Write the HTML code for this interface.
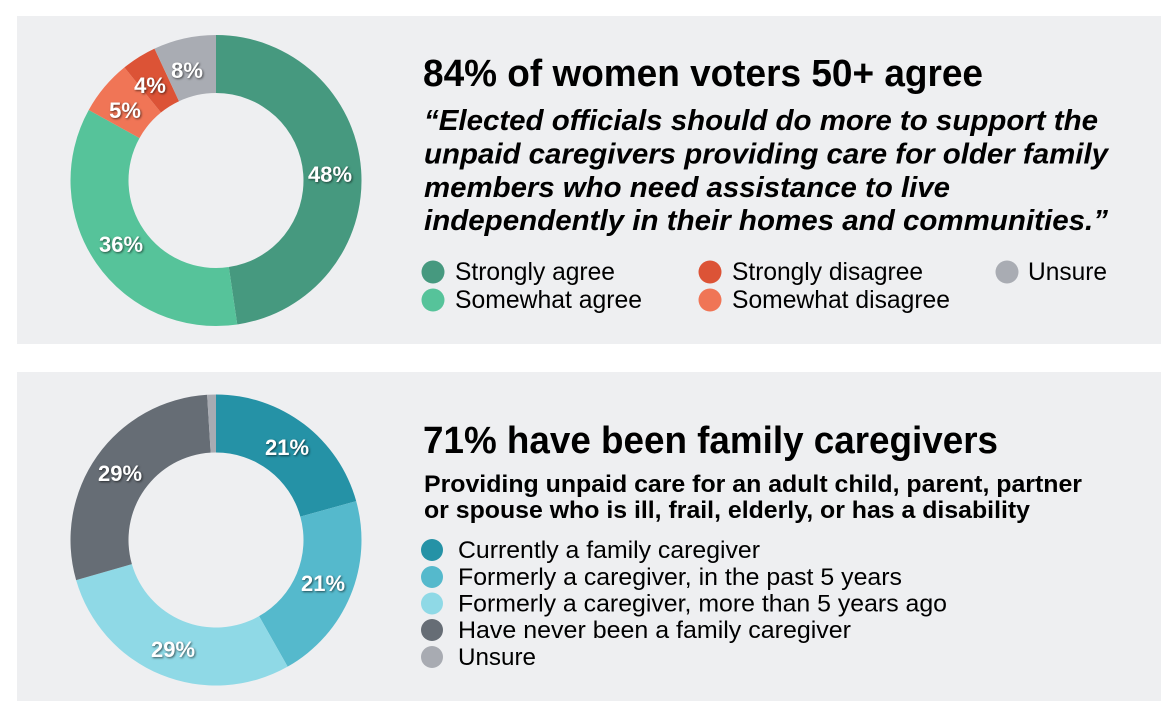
<!DOCTYPE html>
<html>
<head>
<meta charset="utf-8">
<style>
  html,body{margin:0;padding:0;background:#ffffff;}
  svg{display:block;}
  .t{font-family:"Liberation Sans",Arial,sans-serif;fill:#000;}
  .lbl{font-family:"Liberation Sans",Arial,sans-serif;font-weight:bold;font-size:22px;fill:#fff;text-anchor:middle;text-shadow:1px 1px 2px rgba(0,0,0,0.6);}
</style>
</head>
<body>
<svg width="1172" height="720" viewBox="0 0 1172 720" xmlns="http://www.w3.org/2000/svg">
  <rect x="0" y="0" width="1172" height="720" fill="#ffffff"/>
  <rect x="17" y="16" width="1144" height="328" fill="#eeeff1"/>
  <rect x="17" y="372" width="1144" height="329" fill="#eeeff1"/>

  <!-- Donut 1 -->
  <path d="M216,35 A145.5,145.5 0 0 1 237.26,324.44 L228.78,267.06 A87.5,87.5 0 0 0 216,93 Z" fill="#46997f"/>
  <path d="M237.26,324.44 A145.5,145.5 0 0 1 88.75,109.96 L139.47,138.08 A87.5,87.5 0 0 0 228.78,267.06 Z" fill="#56c39a"/>
  <path d="M88.75,109.96 A145.5,145.5 0 0 1 124.44,67.43 L160.94,112.5 A87.5,87.5 0 0 0 139.47,138.08 Z" fill="#f07556"/>
  <path d="M124.44,67.43 A145.5,145.5 0 0 1 154.51,48.63 L179.02,101.2 A87.5,87.5 0 0 0 160.94,112.5 Z" fill="#dc5336"/>
  <path d="M154.51,48.63 A145.5,145.5 0 0 1 216,35 L216,93 A87.5,87.5 0 0 0 179.02,101.2 Z" fill="#a9acb3"/>

  <text class="lbl" x="330" y="182">48%</text>
  <text class="lbl" x="121" y="252">36%</text>
  <text class="lbl" x="125" y="118">5%</text>
  <text class="lbl" x="150" y="93">4%</text>
  <text class="lbl" x="187" y="78">8%</text>

  <!-- Donut 2 -->
  <path d="M216,394.5 A145.5,145.5 0 0 1 356.20,501.12 L300.32,516.62 A87.5,87.5 0 0 0 216,452.5 Z" fill="#2592a6"/>
  <path d="M356.20,501.12 A145.5,145.5 0 0 1 287.64,666.64 L259.09,616.16 A87.5,87.5 0 0 0 300.32,516.62 Z" fill="#55b9cc"/>
  <path d="M287.64,666.64 A145.5,145.5 0 0 1 76.13,580.10 L131.89,564.12 A87.5,87.5 0 0 0 259.09,616.16 Z" fill="#8fd9e6"/>
  <path d="M76.13,580.10 A145.5,145.5 0 0 1 207.12,394.78 L210.66,452.66 A87.5,87.5 0 0 0 131.89,564.12 Z" fill="#666d75"/>
  <path d="M207.12,394.78 A145.5,145.5 0 0 1 216,394.5 L216,452.5 A87.5,87.5 0 0 0 210.66,452.66 Z" fill="#a8abb2"/>

  <text class="lbl" x="287" y="455">21%</text>
  <text class="lbl" x="323" y="591">21%</text>
  <text class="lbl" x="173" y="657">29%</text>
  <text class="lbl" x="120" y="481">29%</text>

  <!-- Panel 1 text -->
  <text class="t" x="423" y="86" font-size="38" font-weight="bold" textLength="560" lengthAdjust="spacingAndGlyphs">84% of women voters 50+ agree</text>
  <g font-size="28.5" font-weight="bold" font-style="italic">
    <text class="t" x="424" y="130" textLength="674" lengthAdjust="spacingAndGlyphs">“Elected officials should do more to support the</text>
    <text class="t" x="424" y="163.5" textLength="684" lengthAdjust="spacingAndGlyphs">unpaid caregivers providing care for older family</text>
    <text class="t" x="424" y="197" textLength="526" lengthAdjust="spacingAndGlyphs">members who need assistance to live</text>
    <text class="t" x="424" y="230" textLength="684" lengthAdjust="spacingAndGlyphs">independently in their homes and communities.”</text>
  </g>

  <circle cx="433" cy="272" r="11.5" fill="#46997f"/>
  <circle cx="433" cy="300" r="11.5" fill="#56c39a"/>
  <circle cx="710" cy="272" r="11.5" fill="#dc5336"/>
  <circle cx="710" cy="300" r="11.5" fill="#f07556"/>
  <circle cx="1007" cy="272" r="11.5" fill="#a9acb3"/>
  <g font-size="25">
    <text class="t" x="455" y="280" textLength="160" lengthAdjust="spacingAndGlyphs">Strongly agree</text>
    <text class="t" x="455" y="308" textLength="187" lengthAdjust="spacingAndGlyphs">Somewhat agree</text>
    <text class="t" x="732" y="280" textLength="191" lengthAdjust="spacingAndGlyphs">Strongly disagree</text>
    <text class="t" x="732" y="308" textLength="218" lengthAdjust="spacingAndGlyphs">Somewhat disagree</text>
    <text class="t" x="1028" y="280" textLength="79" lengthAdjust="spacingAndGlyphs">Unsure</text>
  </g>

  <!-- Panel 2 text -->
  <text class="t" x="423" y="453" font-size="38" font-weight="bold" textLength="575" lengthAdjust="spacingAndGlyphs">71% have been family caregivers</text>
  <g font-size="24" font-weight="bold">
    <text class="t" x="424" y="492" textLength="658" lengthAdjust="spacingAndGlyphs">Providing unpaid care for an adult child, parent, partner</text>
    <text class="t" x="424" y="518" textLength="606" lengthAdjust="spacingAndGlyphs">or spouse who is ill, frail, elderly, or has a disability</text>
  </g>

  <circle cx="432" cy="550" r="11" fill="#2592a6"/>
  <circle cx="432" cy="577" r="11" fill="#55b9cc"/>
  <circle cx="432" cy="603.5" r="11" fill="#8fd9e6"/>
  <circle cx="432" cy="630" r="11" fill="#666d75"/>
  <circle cx="432" cy="657" r="11" fill="#a8abb2"/>
  <g font-size="24.5">
    <text class="t" x="458" y="558" textLength="302" lengthAdjust="spacingAndGlyphs">Currently a family caregiver</text>
    <text class="t" x="458" y="585" textLength="444" lengthAdjust="spacingAndGlyphs">Formerly a caregiver, in the past 5 years</text>
    <text class="t" x="458" y="611.5" textLength="489" lengthAdjust="spacingAndGlyphs">Formerly a caregiver, more than 5 years ago</text>
    <text class="t" x="458" y="638" textLength="393" lengthAdjust="spacingAndGlyphs">Have never been a family caregiver</text>
    <text class="t" x="458" y="665" textLength="78" lengthAdjust="spacingAndGlyphs">Unsure</text>
  </g>
</svg>
</body>
</html>
